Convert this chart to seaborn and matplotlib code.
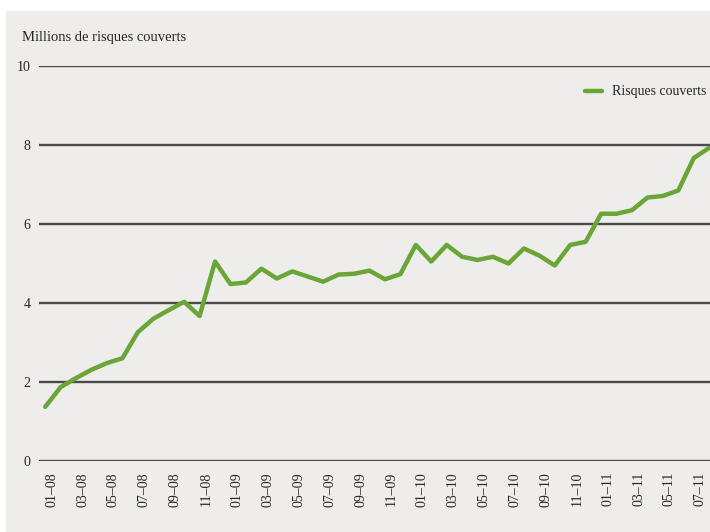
import pandas as pd
import matplotlib.pyplot as plt
import seaborn as sns
from matplotlib.patches import Rectangle

# monthly values, Jan 2008 -> Aug 2011 (millions)
months = [f"{m:02d}–{y:02d}" for y in (8, 9, 10, 11) for m in range(1, 13)][:44]
risques = [
    1.37, 1.87, 2.10, 2.31, 2.48, 2.60, 3.26, 3.60, 3.82, 4.03, 3.67, 5.05,
    4.48, 4.52, 4.87, 4.62, 4.80, 4.67, 4.54, 4.72, 4.74, 4.82, 4.60, 4.73,
    5.47, 5.05, 5.47, 5.17, 5.09, 5.17, 5.00, 5.38, 5.20, 4.95, 5.47, 5.55,
    6.26, 6.26, 6.35, 6.67, 6.71, 6.85, 7.67, 7.93,
]
y_ticks = [0, 2, 4, 6, 8, 10]

BG = "#eeedeb"
GREEN = "#6aa637"
GRID = "#4a4a4a"

sns.set_style("white")
plt.rcParams["font.family"] = ["Liberation Serif", "DejaVu Serif"]

df = pd.DataFrame({"idx": range(len(risques)), "mois": months, "valeur": risques})

fig = plt.figure(figsize=(7.1, 5.32), dpi=100, facecolor="white")
fig.patches.append(Rectangle((6 / 710, 0), 1, 1 - 11 / 532, transform=fig.transFigure,
                             facecolor=BG, edgecolor="none", zorder=-10))
ax = fig.add_axes([39 / 710, 1 - 461 / 532, 1 - 39 / 710, (461 - 66) / 532])
ax.set_facecolor(BG)

for v in y_ticks:
    ax.axhline(v, color=GRID, lw=1.7, zorder=1)

sns.lineplot(data=df, x="idx", y="valeur", ax=ax, color=GREEN, lw=3.2,
             label="Risques couverts", zorder=3)

ax.set_xlim(-0.4, 43.05)
ax.set_ylim(0, 10)
ax.set_yticks(y_ticks)
ax.set_yticklabels([str(v) for v in y_ticks], fontsize=10)
ax.set_xticks(df["idx"][::2])
ax.set_xticklabels(df["mois"][::2], rotation=90, fontsize=10, va="top", ha="left")
ax.tick_params(axis="both", length=0)
ax.tick_params(axis="y", pad=6)
ax.tick_params(axis="x", pad=8)
ax.set_xlabel("")
ax.set_ylabel("")
sns.despine(ax=ax, left=True, bottom=True)

ax.legend(loc="center left", bbox_to_anchor=((585 - 39) / 671, (461 - 92) / 395),
          frameon=False, fontsize=10, handlelength=1.25, handletextpad=0.7,
          borderaxespad=0, borderpad=0)

fig.text(22 / 710, 1 - 37 / 532, "Millions de risques couverts", fontsize=10.5,
         va="center", ha="left")

fig.savefig("out.png", dpi=100, facecolor=fig.get_facecolor())
